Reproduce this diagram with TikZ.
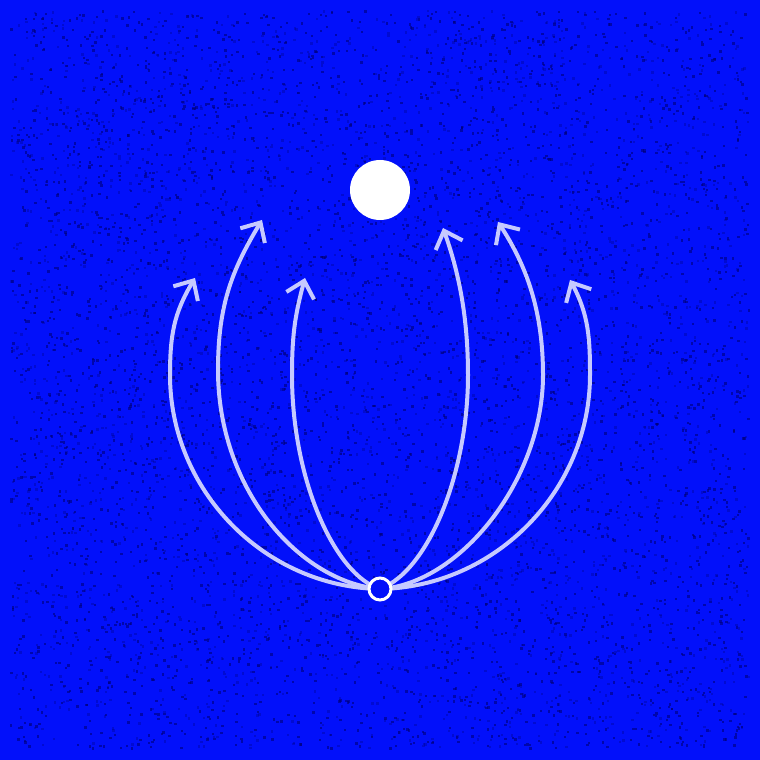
\documentclass[tikz,border=0pt]{standalone}
\usepackage{tikz}
\usetikzlibrary{arrows.meta}
\definecolor{deepblue}{RGB}{2, 16, 250}
\definecolor{speck}{RGB}{0, 0, 120}
\definecolor{pale}{RGB}{198, 202, 255}

\begin{document}
\begin{tikzpicture}[x=1pt, y=1pt,
    ray/.style={pale, line width=4pt, -{Straight Barb[angle=86:21pt, line join=miter]}}]
  \fill[deepblue] (0, 0) rectangle (760, 760);
  \useasboundingbox (0, 0) rectangle (760, 760);

  % grain
  \pgfmathsetseed{4242}
  \foreach \i in {1,...,4200} {
    \fill[speck, opacity=0.6] (10+rnd*738, 10+rnd*738) rectangle +(2.4, 2.4);
  }
  \foreach \i in {1,...,2600} {
    \fill[speck, opacity=0.3] (10+rnd*738, 10+rnd*738) rectangle +(2.4, 2.4);
  }

  \coordinate (src) at (380, 171);
  \foreach \n/\x/\y in {lo/195/482, lm/262/540, li/305/482, ri/443/532, rm/498/538, ro/570/480} {
    \coordinate (tip\n) at (\x, \y);
  }

  \draw[ray] (src) .. controls (264, 173) and (170, 270) .. (170, 385)
    .. controls (170, 425) and (174, 447) .. (tiplo);
  \draw[ray] (src) .. controls (300, 178) and (218, 270) .. (218, 390)
    .. controls (218, 455) and (232, 490) .. (tiplm);
  \draw[ray] (src) .. controls (335, 185) and (292, 280) .. (292, 385)
    .. controls (292, 425) and (295, 445) .. (tipli);
  \draw[ray] (src) .. controls (430, 190) and (468, 290) .. (468, 385)
    .. controls (468, 445) and (458, 490) .. (tipri);
  \draw[ray] (src) .. controls (460, 176) and (543, 280) .. (543, 385)
    .. controls (543, 450) and (526, 495) .. (tiprm);
  \draw[ray] (src) .. controls (496, 173) and (590, 270) .. (590, 385)
    .. controls (590, 420) and (589, 445) .. (tipro);

  \node[circle, draw=white, fill=deepblue, line width=3pt, minimum size=22pt, inner sep=0pt] (start) at (src) {};
  \node[circle, fill=white, minimum size=60pt, inner sep=0pt] (goal) at (380, 570) {};

\end{tikzpicture}
\end{document}
